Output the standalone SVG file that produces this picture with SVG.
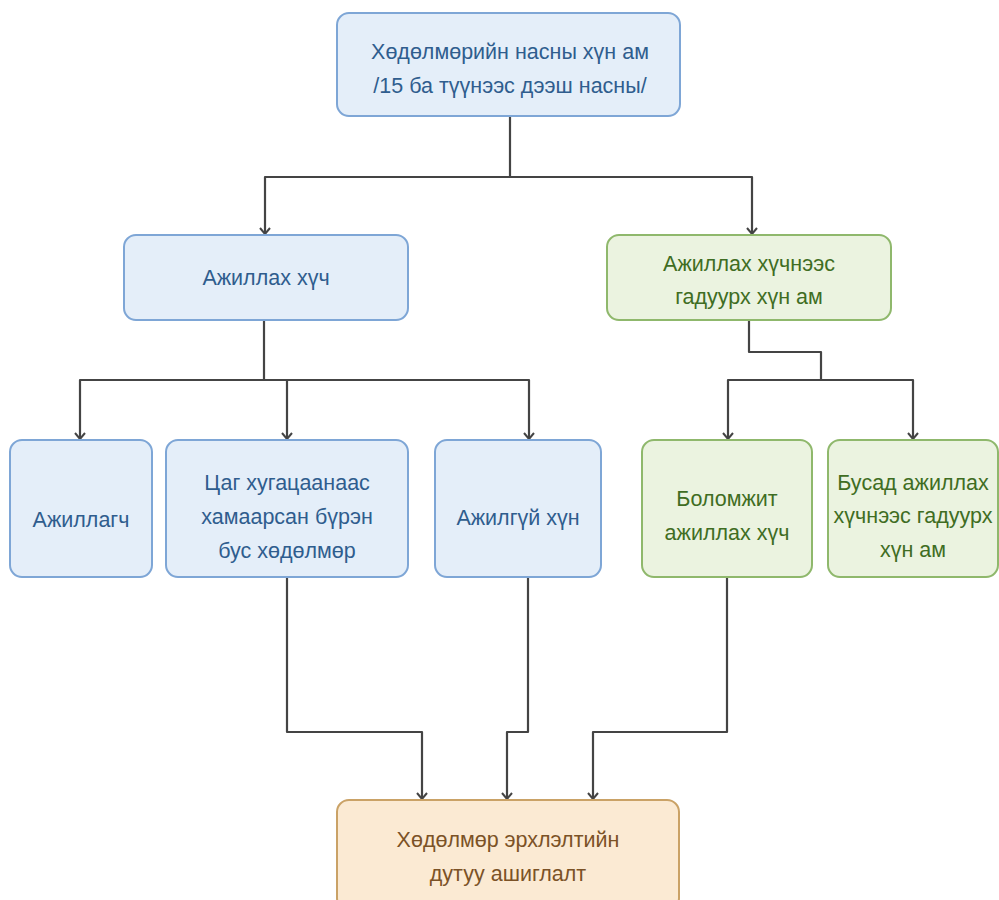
<svg xmlns="http://www.w3.org/2000/svg" width="999" height="900" viewBox="0 0 999 900">
<style>
.blue rect{fill:#e4eef9;stroke:#7ea6d6;stroke-width:2}
.green rect{fill:#ebf3e0;stroke:#8fb86c;stroke-width:2}
.orange rect{fill:#fbead3;stroke:#caa266;stroke-width:2}
text{font-family:"Liberation Sans",Arial,sans-serif;font-size:21.5px;text-anchor:middle}
.blue text{fill:#2f5d8e}
.green text{fill:#3f6d23}
.orange text{fill:#7b5226}
#connectors path{fill:none;stroke:#444;stroke-width:2.2;stroke-linejoin:round}
</style>
<defs>
<marker id="arr" viewBox="0 0 12 12" refX="11" refY="6" markerWidth="12" markerHeight="12" markerUnits="userSpaceOnUse" orient="auto">
<path d="M5,1 L11,6 L5,11" fill="none" stroke="#444" stroke-width="2"/>
</marker>
</defs>
<rect width="999" height="900" fill="#ffffff"/>
<g id="connectors">
<path d="M510,116 V177 H265 V234" marker-end="url(#arr)"/>
<path d="M510,177 H752 V234" marker-end="url(#arr)"/>
<path d="M264,320 V380 H80 V439" marker-end="url(#arr)"/>
<path d="M264,380 H287 V439" marker-end="url(#arr)"/>
<path d="M287,380 H529 V439" marker-end="url(#arr)"/>
<path d="M749,320 V352 H821 V380 H728 V439" marker-end="url(#arr)"/>
<path d="M821,380 H913 V439" marker-end="url(#arr)"/>
<path d="M287,578 V732 H422 V799" marker-end="url(#arr)"/>
<path d="M528,578 V732 H507 V799" marker-end="url(#arr)"/>
<path d="M727,578 V732 H593 V799" marker-end="url(#arr)"/>
</g>
<g id="n-top" class="blue">
<rect x="337" y="13" width="343" height="103" rx="12"/>
<text x="510" y="59">Хөдөлмөрийн насны хүн ам</text>
<text x="510" y="93">/15 ба түүнээс дээш насны/</text>
</g>
<g id="n-labor" class="blue">
<rect x="124" y="235" width="284" height="85" rx="12"/>
<text x="266" y="285">Ажиллах хүч</text>
</g>
<g id="n-outside" class="green">
<rect x="607" y="235" width="284" height="85" rx="12"/>
<text x="749" y="271">Ажиллах хүчнээс</text>
<text x="749" y="304">гадуурх хүн ам</text>
</g>
<g id="n-employed" class="blue">
<rect x="10" y="440" width="142" height="137" rx="12"/>
<text x="81" y="527">Ажиллагч</text>
</g>
<g id="n-timerelated" class="blue">
<rect x="166" y="440" width="242" height="137" rx="12"/>
<text x="287" y="490">Цаг хугацаанаас</text>
<text x="287" y="524">хамаарсан бүрэн</text>
<text x="287" y="558">бус хөдөлмөр</text>
</g>
<g id="n-unemployed" class="blue">
<rect x="435" y="440" width="166" height="137" rx="12"/>
<text x="518" y="525">Ажилгүй хүн</text>
</g>
<g id="n-potential" class="green">
<rect x="642" y="440" width="170" height="137" rx="12"/>
<text x="727" y="506">Боломжит</text>
<text x="727" y="540">ажиллах хүч</text>
</g>
<g id="n-other" class="green">
<rect x="828" y="440" width="170" height="137" rx="12"/>
<text x="913" y="490">Бусад ажиллах</text>
<text x="913" y="523">хүчнээс гадуурх</text>
<text x="913" y="557">хүн ам</text>
</g>
<g id="n-under" class="orange">
<rect x="337" y="800" width="342" height="110" rx="12"/>
<text x="508" y="847">Хөдөлмөр эрхлэлтийн</text>
<text x="508" y="881">дутуу ашиглалт</text>
</g>
</svg>
